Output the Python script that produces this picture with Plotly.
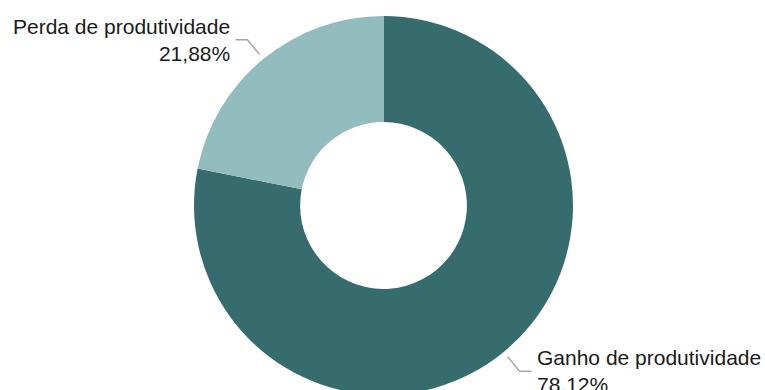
import math
import plotly.graph_objects as go

# ---- data ----
categories = ["Ganho de produtividade", "Perda de produtividade"]
values = [78.12, 21.88]
value_labels = ["78.12%", "21,88%"]
colors = ["#376c6f", "#93bcbe"]

# ---- layout geometry ----
W, H = 765, 395
ML, MR, MT, MB = 2, 0, 16, 0
PW, PH = W - ML - MR, H - MT - MB
HOLE = 0.44

fig = go.Figure(go.Pie(
    labels=categories,
    values=values,
    hole=HOLE,
    sort=False,
    direction="clockwise",
    rotation=0,
    textinfo="none",
    marker=dict(colors=colors, line=dict(width=0)),
    showlegend=False,
    domain=dict(x=[0, 1], y=[0, 1]),
))

# pie geometry (derived from layout, as plotly does)
R = min(PW, PH) / 2
CX = ML + PW / 2
CY = MT + PH / 2


def to_paper(px, py):
    return (px - ML) / PW, (H - MB - py) / PH


total = sum(values)
start = 90.0  # 12 o'clock, slices follow clockwise
shapes, annotations = [], []
for cat, v, vl in zip(categories, values, value_labels):
    span = v / total * 360
    mid = math.radians(start - span / 2)
    start -= span
    c, s = math.cos(mid), math.sin(mid)
    p0 = (CX + (R + 6) * c, CY - (R + 6) * s)
    p1 = (CX + (R + 25) * c, CY - (R + 25) * s)
    side = -1 if c < 0 else 1
    p2 = (p1[0] + side * 12, p1[1])
    a, b, d = to_paper(*p0), to_paper(*p1), to_paper(*p2)
    shapes.append(dict(
        type="path", xref="paper", yref="paper",
        path=f"M {a[0]},{a[1]} L {b[0]},{b[1]} L {d[0]},{d[1]}",
        line=dict(color="#a6a6a6", width=1.5),
    ))
    tx, ty = to_paper(p2[0] + side * 3, p2[1])
    annotations.append(dict(
        x=tx, y=ty, xref="paper", yref="paper",
        text=f"{cat}<br>{vl}",
        showarrow=False,
        xanchor="right" if side < 0 else "left",
        yanchor="middle",
        align="right" if side < 0 else "left",
        font=dict(family="Liberation Sans, Arial, sans-serif", size=21, color="#1a1a1a"),
    ))

fig.update_layout(
    width=W, height=H,
    margin=dict(l=ML, r=MR, t=MT, b=MB, pad=0),
    paper_bgcolor="white",
    plot_bgcolor="white",
    shapes=shapes,
    annotations=annotations,
)

fig.write_html(
    "out.html",
    post_script="document.documentElement.style.overflow='hidden';document.body.style.overflow='hidden';document.body.style.margin='0';",
)
